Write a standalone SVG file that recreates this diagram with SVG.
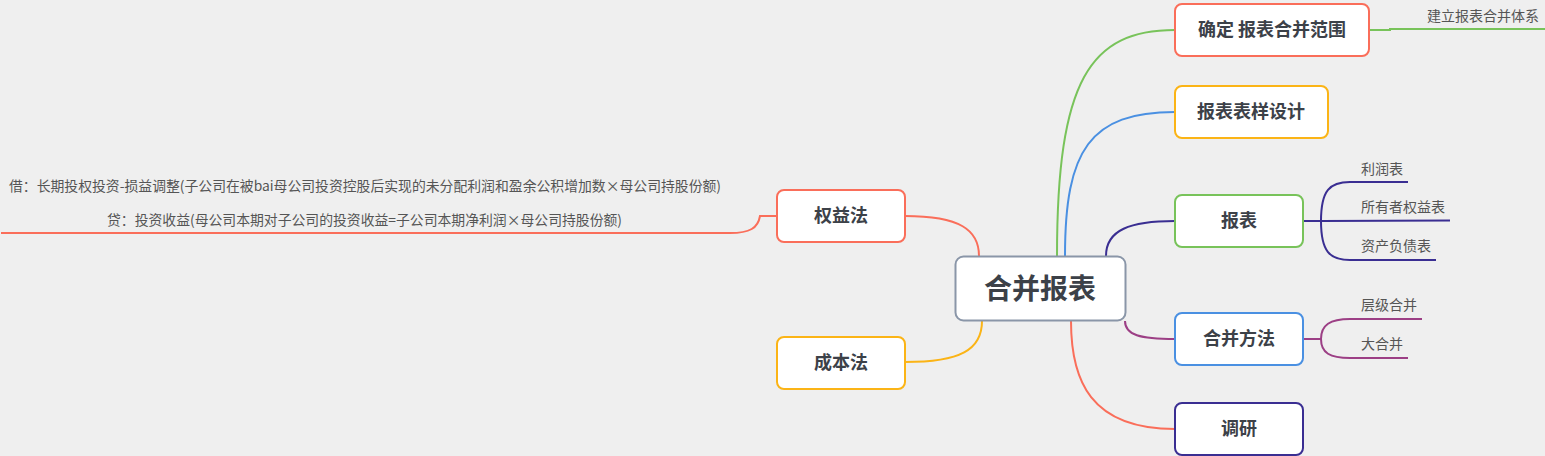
<svg xmlns="http://www.w3.org/2000/svg" width="1545" height="456" viewBox="0 0 1545 456">
<style>
.n{fill:#fff;stroke-width:2}
.t{font-family:"Noto Sans CJK SC",sans-serif;font-weight:bold;fill:#3c4148;text-anchor:middle}
.s{font-family:"Noto Sans CJK SC",sans-serif;font-size:14px;fill:#555}
.c{fill:none;stroke-width:2}
</style>
<rect width="1545" height="456" fill="#efefef"/>
<g id="connectors">
<path class="c" stroke="#78c35a" d="M1057 256 C1057 80 1090 30 1175 30"/>
<path class="c" stroke="#4a90e2" d="M1065 256 C1065 150 1090 112 1175 112"/>
<path class="c" stroke="#3a2e92" d="M1106 256 C1106 230 1130 221 1175 221"/>
<path class="c" stroke="#9c3f85" d="M1125 321 C1125 335 1140 339 1175 339"/>
<path class="c" stroke="#fa6e5a" d="M1071 321 C1071 380 1090 429 1175 429"/>
<path class="c" stroke="#fa6e5a" d="M979 256 C979 230 960 216 905 216"/>
<path class="c" stroke="#fbb416" d="M982 321 C982 350 960 362 905 362"/>
<path class="c" stroke="#fa6e5a" d="M777 216 L760 216 C758 228 750 233 730 233 L1 233"/>
<path class="c" stroke="#78c35a" d="M1369 30 L1390 30 L1390 29 L1545 29"/>
<path class="c" stroke="#3a2e92" d="M1303 221 L1321 221 M1321 221 C1321 190 1330 182 1350 182 L1408 182 M1321 221 L1450 220.5 M1321 221 C1321 252 1330 260 1350 260 L1436 260"/>
<path class="c" stroke="#9c3f85" d="M1303 339 L1321 339 M1321 339 C1321 325 1330 319 1350 319 L1422 319 M1321 339 C1321 353 1330 358 1350 358 L1408 358"/>
</g>
<g id="root"><rect class="n" x="955.5" y="256.5" width="170" height="64" rx="8" stroke="#8a96a8" stroke-width="3"/><text class="t" x="1040" y="299" font-size="28">合并报表</text></g>
<g id="n1"><rect class="n" x="1175" y="4" width="194" height="52" rx="7" stroke="#fa6e5a"/><text class="t" x="1272" y="36" font-size="18">确定 报表合并范围</text></g>
<g id="n2"><rect class="n" x="1175" y="86" width="153" height="52" rx="7" stroke="#fbb416"/><text class="t" x="1251" y="118" font-size="18">报表表样设计</text></g>
<g id="n3"><rect class="n" x="1175" y="195" width="128" height="52" rx="7" stroke="#78c35a"/><text class="t" x="1239" y="227" font-size="18">报表</text></g>
<g id="n4"><rect class="n" x="1175" y="313" width="128" height="52" rx="7" stroke="#4a90e2"/><text class="t" x="1239" y="345" font-size="18">合并方法</text></g>
<g id="n5"><rect class="n" x="1175" y="403" width="128" height="52" rx="7" stroke="#3a2e92"/><text class="t" x="1239" y="435" font-size="18">调研</text></g>
<g id="n6"><rect class="n" x="777" y="190" width="128" height="52" rx="7" stroke="#fa6e5a"/><text class="t" x="841" y="222" font-size="18">权益法</text></g>
<g id="n7"><rect class="n" x="777" y="337" width="128" height="52" rx="7" stroke="#fbb416"/><text class="t" x="841" y="369" font-size="18">成本法</text></g>
<g id="leaves">
<text class="s" x="1427" y="21">建立报表合并体系</text>
<text class="s" x="1361" y="174">利润表</text>
<text class="s" x="1361" y="212">所有者权益表</text>
<text class="s" x="1361" y="251">资产负债表</text>
<text class="s" x="1361" y="310">层级合并</text>
<text class="s" x="1361" y="349">大合并</text>
<text class="s" x="9" y="191" textLength="712" lengthAdjust="spacingAndGlyphs">借：长期投权投资-损益调整(子公司在被bai母公司投资控股后实现的未分配利润和盈余公积增加数×母公司持股份额)</text>
<text class="s" x="107" y="225" textLength="515" lengthAdjust="spacingAndGlyphs">贷：投资收益(母公司本期对子公司的投资收益=子公司本期净利润×母公司持股份额)</text>
</g>
</svg>
